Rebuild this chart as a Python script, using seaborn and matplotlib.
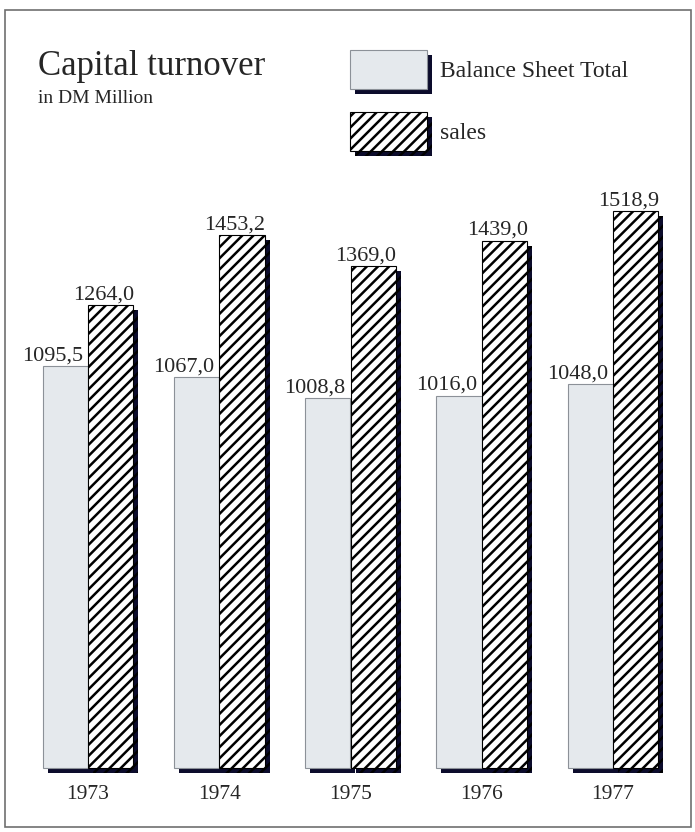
import matplotlib
matplotlib.use('Agg')
import matplotlib.pyplot as plt
import matplotlib.patheffects as pe
from matplotlib.patches import Patch, Rectangle
import pandas as pd
import seaborn as sns

## data
years = ['1973', '1974', '1975', '1976', '1977']
balance = [1095.5, 1067.0, 1008.8, 1016.0, 1048.0]
sales = [1264.0, 1453.2, 1369.0, 1439.0, 1518.9]
series = ['Balance Sheet Total', 'sales']

df = pd.DataFrame({
    'year': years * 2,
    'value': balance + sales,
    'series': [series[0]] * len(years) + [series[1]] * len(years),
})

sns.set_style('white')
plt.rcParams['font.family'] = ['Liberation Serif', 'DejaVu Serif']
plt.rcParams['hatch.linewidth'] = 1.8

light = '#e5e9ed'
light_edge = '#8c9198'
navy = '#0c0c2c'


def shadow():
    return [pe.SimplePatchShadow(offset=(3.6, -3.6), shadow_rgbFace=navy, alpha=1), pe.Normal()]


fig = plt.figure(figsize=(6.95, 8.32), dpi=100)
ax = fig.add_axes([5 / 695, 64 / 832, 686 / 695, 758 / 832])

sns.barplot(data=df, x='year', y='value', hue='series', hue_order=series,
            palette=[light, 'white'], width=0.69, gap=0, saturation=1,
            errorbar=None, legend=False, ax=ax)

# bar styling: light fill / hatched, both with a dark drop shadow
for bar in ax.containers[0]:
    bar.set_edgecolor(light_edge)
    bar.set_linewidth(0.8)
    bar.set_path_effects(shadow())
    bar.set_clip_on(False)
for bar in ax.containers[1]:
    bar.set_edgecolor('black')
    bar.set_hatch('///')
    bar.set_linewidth(0.8)
    bar.set_path_effects(shadow())
    bar.set_clip_on(False)

# value labels, German decimal comma
for cont, vals, dx in [(ax.containers[0], balance, -3.5), (ax.containers[1], sales, 0.5)]:
    for bar, v in zip(cont, vals):
        ax.annotate(f'{v:.1f}'.replace('.', ','),
                    (bar.get_x() + bar.get_width(), bar.get_height()),
                    xytext=(dx, 4), textcoords='offset points',
                    ha='right', va='baseline', fontsize=16)

ax.set_xlim(-83 / 131.25, 4 + 78 / 131.25)
ax.set_ylim(0, 2068)
sns.despine(ax=ax, left=True, bottom=True)
ax.set_yticks([])
ax.set_xlabel('')
ax.set_ylabel('')
ax.tick_params(axis='x', length=0, pad=12, labelsize=15.5)

# title block
fig.text(38 / 695, 1 - 75 / 832, 'Capital turnover', fontsize=25, va='baseline')
fig.text(38 / 695, 1 - 103 / 832, 'in DM Million', fontsize=14, va='baseline')

# legend
handles = [
    Patch(facecolor=light, edgecolor=light_edge, linewidth=0.8),
    Patch(facecolor='white', edgecolor='black', hatch='///', linewidth=0.8),
]
leg = ax.legend(handles, series, loc='upper left',
                bbox_to_anchor=(350 / 695, 1 - 50 / 832), bbox_transform=fig.transFigure,
                frameon=False, fontsize=17, handlelength=3.26, handleheight=2.16,
                labelspacing=0.97, handletextpad=0.55, borderpad=0, borderaxespad=0)
for p in leg.get_patches():
    p.set_path_effects(shadow())

# outer frame
fig.add_artist(Rectangle((5 / 695, 5 / 832), 686 / 695, 817 / 832,
                         transform=fig.transFigure, fill=False,
                         edgecolor='#6f6f6f', linewidth=1.2))

fig.savefig('out.png', dpi=100)
